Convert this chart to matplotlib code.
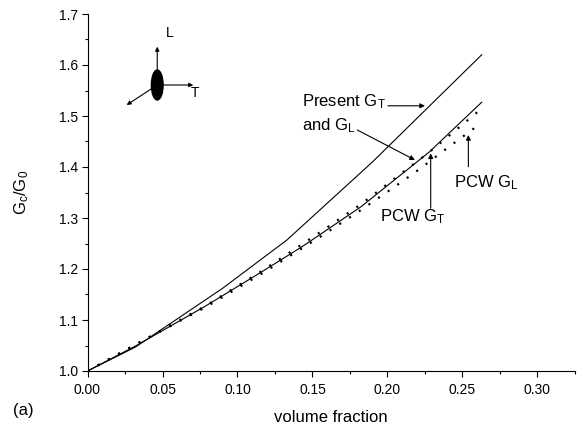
import matplotlib
matplotlib.use("Agg")
import matplotlib.pyplot as plt
from matplotlib.patches import Ellipse

plt.rcParams['font.family'] = ['Liberation Sans', 'DejaVu Sans']
plt.rcParams['mathtext.fontset'] = 'custom'
plt.rcParams['mathtext.rm'] = 'Liberation Sans'
plt.rcParams['mathtext.it'] = 'Liberation Sans:italic'
plt.rcParams['lines.scale_dashes'] = False

# ---- data ----
x_present_T = [0.0, 0.032, 0.090, 0.133, 0.190, 0.2628]
present_GT = [1.0, 1.047, 1.162, 1.257, 1.410, 1.620]

x_present_L = [0.0, 0.032, 0.0785, 0.117, 0.1432, 0.1823, 0.2277, 0.2628]
present_GL = [1.0, 1.049, 1.127, 1.196, 1.244, 1.322, 1.429, 1.527]

x_pcw_T = [0.0, 0.0392, 0.0786, 0.1172, 0.1563, 0.1823, 0.2277, 0.2601]
pcw_GT = [1.0, 1.0634, 1.1275, 1.198, 1.2745, 1.327, 1.4288, 1.508]

x_pcw_L = [0.0, 0.0392, 0.0786, 0.1172, 0.1563, 0.1823, 0.2017, 0.2212, 0.2405, 0.2601]
pcw_GL = [1.0, 1.063, 1.1249, 1.1928, 1.2653, 1.3157, 1.355, 1.3955, 1.4386, 1.481]

xticks = [0.00, 0.05, 0.10, 0.15, 0.20, 0.25, 0.30]
yticks = [1.0, 1.1, 1.2, 1.3, 1.4, 1.5, 1.6, 1.7]

W, H = 585, 428
fig = plt.figure(figsize=(W / 100, H / 100), dpi=100)
ax = fig.add_axes([87.5 / W, (H - 371) / H, (575 - 87.5) / W, (371 - 14) / H])

ax.plot(x_present_T, present_GT, color='black', lw=0.8)
ax.plot(x_present_L, present_GL, color='black', lw=0.8)
ax.plot(x_pcw_T, pcw_GT, color='black', lw=1.6, dashes=(1.5, 6.9))
ax.plot(x_pcw_L, pcw_GL, color='black', lw=1.6, dashes=(1.5, 6.9))

ax.set_xlim(0, 0.325)
ax.set_ylim(1.0, 1.7)
ax.set_xticks(xticks)
ax.set_xticklabels([f"{v:.2f}" for v in xticks])
ax.set_yticks(yticks)
ax.set_yticklabels([f"{v:.1f}" for v in yticks])
ax.set_xticks([0.025 + 0.05 * i for i in range(7)], minor=True)
ax.set_yticks([1.05 + 0.1 * i for i in range(7)], minor=True)
ax.tick_params(which='major', direction='out', length=4.5, width=0.8, labelsize=10)
ax.tick_params(axis='x', which='major', pad=3.8)
ax.tick_params(axis='y', which='major', pad=2.5)
ax.tick_params(which='minor', direction='out', length=2.5, width=0.8)
for s in ['top', 'right']:
    ax.spines[s].set_visible(False)
for s in ['left', 'bottom']:
    ax.spines[s].set_linewidth(0.8)

ax.set_xlabel('volume fraction', fontsize=12)
ax.xaxis.set_label_coords(0.5, -0.108)
ax.set_ylabel(r'G$_\mathrm{c}$/G$_\mathrm{0}$', fontsize=12)
ax.yaxis.set_label_coords(-0.136, 0.5)
ax.yaxis.label.set_va('center')

fig.text(23 / W, 1 - 410 / H, '(a)', ha='center', va='center', fontsize=12)

arrow = dict(arrowstyle='-|>', color='black', lw=0.8, mutation_scale=7, shrinkA=0, shrinkB=0)

# annotations
ax.text(0.1428, 1.529, r'Present G$_\mathrm{T}$', fontsize=12, ha='left', va='center')
ax.annotate('', xy=(0.225, 1.520), xytext=(0.2003, 1.520), arrowprops=arrow)
ax.text(0.1428, 1.482, r'and G$_\mathrm{L}$', fontsize=12, ha='left', va='center')
ax.annotate('', xy=(0.2183, 1.4137), xytext=(0.1799, 1.4725), arrowprops=arrow)
ax.text(0.195, 1.3025, r'PCW G$_\mathrm{T}$', fontsize=12, ha='left', va='center')
ax.annotate('', xy=(0.2288, 1.4267), xytext=(0.2288, 1.319), arrowprops=arrow)
ax.text(0.2443, 1.3696, r'PCW G$_\mathrm{L}$', fontsize=12, ha='left', va='center')
ax.annotate('', xy=(0.2539, 1.4627), xytext=(0.2539, 1.4006), arrowprops=arrow)

# inset orientation sketch
cx, cy = 0.0465, 1.5608
ax.add_patch(Ellipse((cx, cy), 0.0078, 0.0588, color='black'))
small = dict(arrowstyle='-|>', color='black', lw=0.8, mutation_scale=6, shrinkA=0, shrinkB=0)
ax.annotate('', xy=(cx, 1.636), xytext=(cx, cy), arrowprops=small)
ax.annotate('', xy=(0.0705, cy), xytext=(cx, cy), arrowprops=small)
ax.annotate('', xy=(0.0261, 1.5216), xytext=(cx, cy), arrowprops=small)
ax.text(0.0547, 1.6627, 'L', fontsize=10, ha='center', va='center')
ax.text(0.072, 1.545, 'T', fontsize=10, ha='center', va='center')

fig.savefig('out.png', dpi=100)
